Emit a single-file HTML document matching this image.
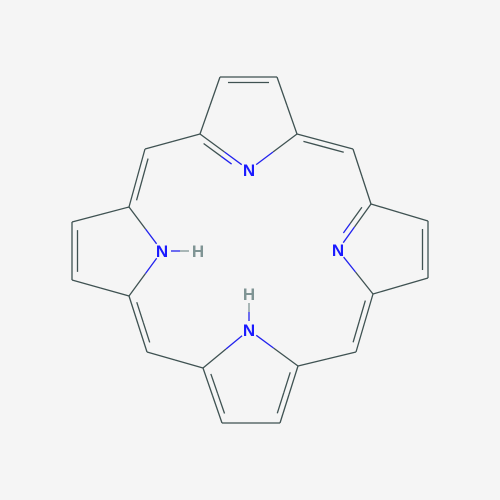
<!DOCTYPE html>
<html><head><meta charset="utf-8"><style>
html,body{margin:0;padding:0;background:#f5f5f5;}
svg{display:block}
text{font-family:"Liberation Sans",sans-serif;font-size:17px;font-weight:bold;}
</style></head><body>
<svg id="mol" width="500" height="500" viewBox="0 0 500 500">
<rect width="500" height="500" fill="#f5f5f5"/>
</svg>
<script>
const atomNames=["tN","tA1","tB1","tB2","tA2","mTL","mTR","lA1","lB1","lB2","lA2","lN","lH","mBL","mBR","bA1","bB1","bB2","bA2","bN","bH","rA1","rB1","rB2","rA2","rN"];
const atomX=[249,200,220,277,297,145,353,129,72,72,129,162,198,147,356,203,222,280,298,249,249,371,428,428,373,338];
const atomY=[170,134,77,77,134,149,149,207,222,280,296,251,251,352,352,368,423,423,366,330,294,204,221,278,294,250];
const bonds=[
["tB1","tB2",2,"p"],["tA1","tB1",1],["tA2","tB2",1],["tA1","tN",2,"m"],["tA2","tN",1],
["tA1","mTL",1],["mTL","lA1",2,"m"],["tA2","mTR",2,"m"],["mTR","rA1",1],
["rA1","rN",2,"m"],["rA2","rN",1],["rA1","rB1",1],["rB1","rB2",2,"p"],["rB2","rA2",1],
["rA2","mBR",2,"m"],["mBR","bA2",1],["bA2","bB2",2,"p"],["bB1","bB2",1],["bB1","bA1",2,"p"],
["bA1","bN",1],["bA2","bN",1],["bA1","mBL",1],["mBL","lA2",2,"m"],["lA2","lB2",1],
["lB2","lB1",2,"p"],["lB1","lA1",1],["lA1","lN",1],["lA2","lN",1],["lN","lH",1],["bN","bH",1]];
const svg=document.getElementById('mol');
const NS="http://www.w3.org/2000/svg";
const P={};atomNames.forEach((n,i)=>P[n]=[atomX[i],atomY[i]]);
const pyr={t:["tA1","tB1","tB2","tA2","tN"],l:["lA1","lB1","lB2","lA2","lN"],b:["bA1","bB1","bB2","bA2","bN"],r:["rA1","rB1","rB2","rA2","rN"]};
function cen(a){const ring=Object.values(pyr).find(r=>r.includes(a));let x=0,y=0;ring.forEach(n=>{x+=P[n][0];y+=P[n][1]});return [x/5,y/5];}
const isN=n=>n.endsWith("N"), isH=n=>n.endsWith("H");
function line(x1,y1,x2,y2,c,name){const l=document.createElementNS(NS,'line');
l.setAttribute('x1',x1);l.setAttribute('y1',y1);l.setAttribute('x2',x2);l.setAttribute('y2',y2);
l.setAttribute('stroke',c);l.setAttribute('stroke-width','1.3');


svg.appendChild(l);}
function seg(a,b,A,B,name){
 // trim for labels
 let [x1,y1]=A,[x2,y2]=B;const dx=x2-x1,dy=y2-y1,L=Math.hypot(dx,dy);
 let s=(isN(a)||isH(a))?9/L:0,e=(isN(b)||isH(b))?9/L:0;
 const sx=x1+dx*s,sy=y1+dy*s,ex=x2-dx*e,ey=y2-dy*e,mx=(x1+x2)/2,my=(y1+y2)/2;
 const ca=isN(a)?"#2222ee":isH(a)?"#7f9494":"#3f5252";
 const cb=isN(b)?"#2222ee":isH(b)?"#7f9494":"#3f5252";
 line(sx,sy,mx,my,ca,name);line(mx,my,ex,ey,cb,name);}
bonds.forEach(([a,b,o,side])=>{
 const A=P[a],B=P[b];const name='bond-'+a+'-'+b;
 seg(a,b,A,B,name);
 if(o===2){
  const ref=side==="m"?[250,250]:cen(a);
  const dx=B[0]-A[0],dy=B[1]-A[1],L=Math.hypot(dx,dy);
  let nx=-dy/L,ny=dx/L;const mx=(A[0]+B[0])/2,my=(A[1]+B[1])/2;
  if((ref[0]-mx)*nx+(ref[1]-my)*ny<0){nx=-nx;ny=-ny;}
  const off=5.5,sh=0.14;
  const A2=[A[0]+dx*sh+nx*off,A[1]+dy*sh+ny*off],B2=[B[0]-dx*sh+nx*off,B[1]-dy*sh+ny*off];
  seg(a,b,A2,B2,name+'-second');
 }
});
atomNames.forEach(n=>{if(isN(n)||isH(n)){const t=document.createElementNS(NS,'text');
 t.setAttribute('x',P[n][0]);t.setAttribute('y',P[n][1]+6);t.setAttribute('text-anchor','middle');
 t.setAttribute('fill',isN(n)?"#1a1aff":"#7f9494");t.textContent=isN(n)?"N":"H";
 
 
 svg.appendChild(t);}});
</script>
</body></html>
